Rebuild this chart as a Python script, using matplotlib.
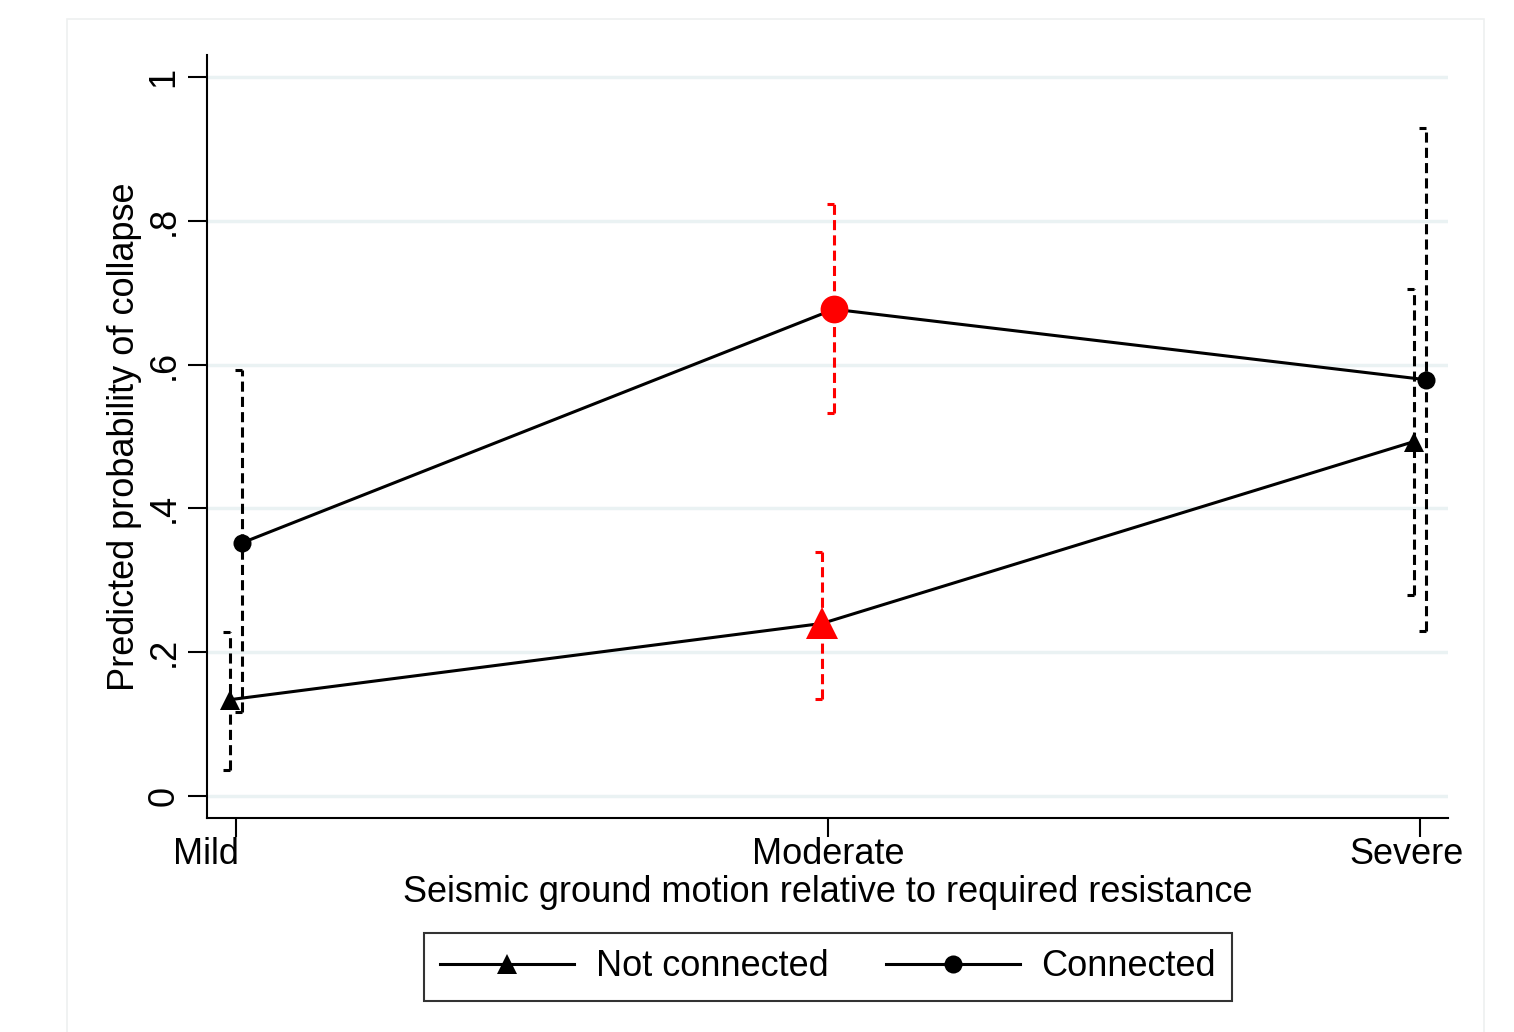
import matplotlib.pyplot as plt
from matplotlib.lines import Line2D
from matplotlib.patches import Rectangle
from matplotlib.transforms import ScaledTranslation, blended_transform_factory

plt.rcParams['font.family'] = ['Liberation Sans', 'DejaVu Sans']

levels = ["Mild", "Moderate", "Severe"]
x_pos = [1, 2, 3]

# not connected
nc_prob = [0.134, 0.240, 0.493]
nc_lo = [0.036, 0.135, 0.279]
nc_hi = [0.228, 0.340, 0.705]

# connected
c_prob = [0.352, 0.677, 0.579]
c_lo = [0.117, 0.532, 0.230]
c_hi = [0.592, 0.823, 0.929]

offset = 0.01
grid_col = '#eaf2f3'
lw = 2.2
fs = 26

fig = plt.figure(figsize=(15.14, 10.32), dpi=100)
fig.patches.append(Rectangle((67 / 1514, -0.01), (1484 - 67) / 1514, 1 - 19 / 1032 + 0.01,
                             transform=fig.transFigure, fill=False, edgecolor='#eef0f0', lw=1.2))
ax = fig.add_axes([207 / 1514, 1 - 818 / 1032, (1448 - 207) / 1514, (818 - 55) / 1032])


def ci(ax, xs, lo, hi, colors):
    for x, l, h, col in zip(xs, lo, hi, colors):
        ax.plot([x, x], [l, h], color=col, lw=lw, ls=(0, (3.3, 1.7)), zorder=2)
        for yy in (l, h):
            ax.plot([x - 0.012, x], [yy, yy], color=col, lw=lw, zorder=2, solid_capstyle='butt')


nc_x = [x - offset for x in x_pos]
c_x = [x + offset for x in x_pos]
cols = ['black', 'red', 'black']

ci(ax, nc_x, nc_lo, nc_hi, cols)
ci(ax, c_x, c_lo, c_hi, cols)

ax.plot(nc_x, nc_prob, color='black', lw=lw, zorder=3)
ax.plot(c_x, c_prob, color='black', lw=lw, zorder=3)
for i in range(3):
    big = i == 1
    ax.plot(nc_x[i], nc_prob[i], marker='^', color=cols[i], ms=23 if big else 15, mew=0, zorder=4)
    ax.plot(c_x[i], c_prob[i], marker='o', color=cols[i], ms=20 if big else 13, mew=0, zorder=4)

ax.set_xlim(1 - 29 / 592, 3 + 28 / 592)
ax.set_ylim(-0.0306, 1.0306)
ax.set_xticks(x_pos)
ax.set_xticklabels([])
# tick labels by hand: Stata pushes the edge ones inward a bit
shifts = [-30, 0, -13]
trans = blended_transform_factory(ax.transData, ax.transAxes)
for x, name, dx in zip(x_pos, levels, shifts):
    ax.text(x, 0, name, fontsize=fs, ha='center', va='top',
            transform=trans + ScaledTranslation(dx / 100, -0.19, fig.dpi_scale_trans))
ax.set_yticks([0, 0.2, 0.4, 0.6, 0.8, 1.0])
ax.set_yticklabels(['0', '.2', '.4', '.6', '.8', '1'], fontsize=fs, rotation=90, va='center')
ax.tick_params(axis='both', length=14, width=1.5, direction='out')
ax.tick_params(axis='y', pad=4.5)
for y in [0, 0.2, 0.4, 0.6, 0.8, 1.0]:
    ax.axhline(y, color=grid_col, lw=2.5, zorder=0)
ax.spines['top'].set_visible(False)
ax.spines['right'].set_visible(False)
ax.spines['left'].set_linewidth(1.5)
ax.spines['bottom'].set_linewidth(1.5)
ax.text(0.5, 0, 'Seismic ground motion relative to required resistance', fontsize=fs,
        ha='center', va='top', transform=ax.transAxes + ScaledTranslation(0, -0.57, fig.dpi_scale_trans))
ax.set_ylabel('Predicted probability of collapse', fontsize=fs, labelpad=3)

handles = [Line2D([], [], color='black', lw=lw, marker='^', ms=15, mew=0),
           Line2D([], [], color='black', lw=lw, marker='o', ms=13, mew=0)]
leg = fig.legend(handles, ['Not connected', 'Connected'], ncol=2, fontsize=fs,
                 loc='center', bbox_to_anchor=(828 / 1514, 1 - 967 / 1032),
                 frameon=True, fancybox=False, edgecolor='black', handlelength=3.7,
                 columnspacing=1.6, handletextpad=0.6, borderpad=0.45)
leg.get_frame().set_linewidth(1.5)

fig.savefig('out.png', dpi=100, facecolor='white')
